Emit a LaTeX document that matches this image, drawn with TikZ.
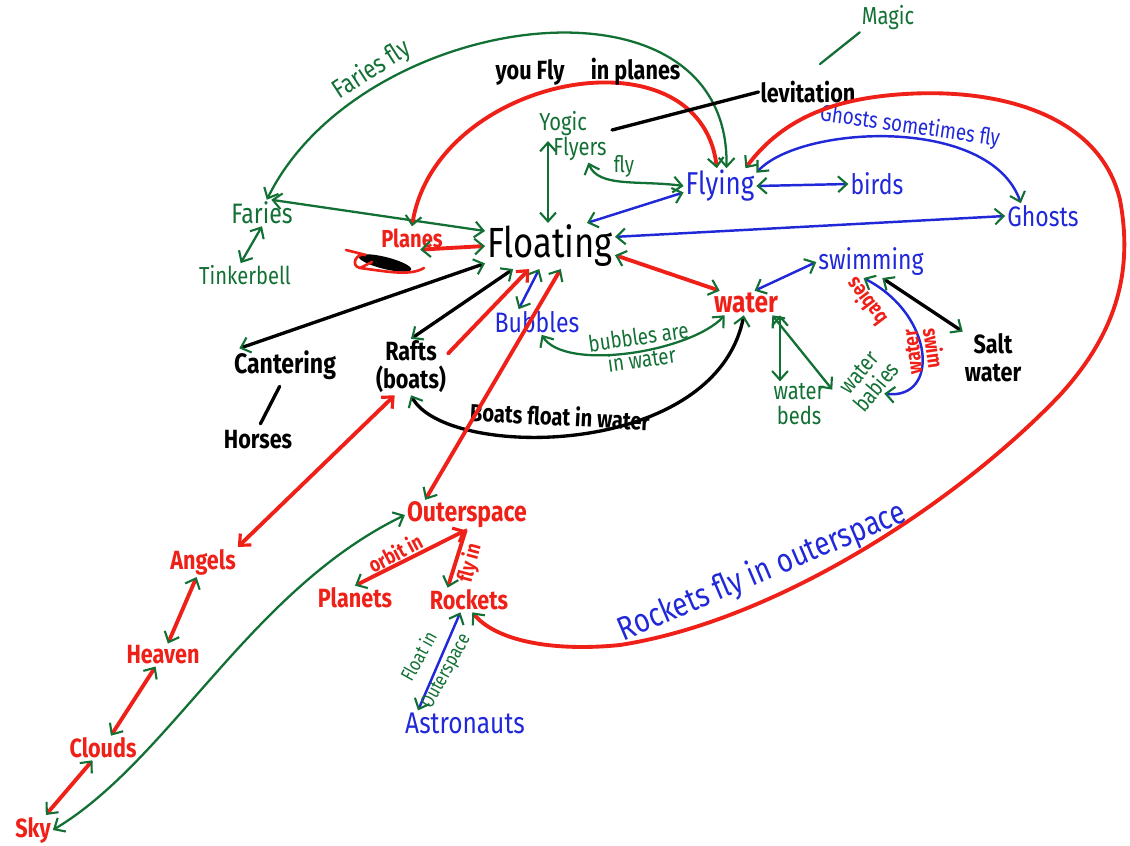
\documentclass[tikz,border=0pt]{standalone}
\usepackage{fontspec}
\setmainfont{Fira Sans}[FakeStretch=0.82]
\usetikzlibrary{arrows.meta}
\definecolor{mred}{RGB}{238,32,24}
\definecolor{mgreen}{RGB}{18,112,52}
\definecolor{mblue}{RGB}{32,40,216}
\tikzset{
  concept/.style={inner sep=1pt, align=center, font=\fontsize{16}{17}\selectfont},
  bconcept/.style={concept, text=mblue},
  gconcept/.style={concept, text=mgreen},
  kconcept/.style={concept, text=black, font=\fontsize{15}{16}\selectfont\bfseries},
  rconcept/.style={concept, text=mred, font=\fontsize{15}{16}\selectfont\bfseries},
  lbl/.style={inner sep=1pt, align=center, font=\fontsize{13}{13}\selectfont},
  gline/.style={draw=mgreen, line width=1.3pt, line cap=round},
  bline/.style={draw=mblue, line width=1.4pt, line cap=round},
  rline/.style={draw=mred, line width=2.2pt, line cap=round},
  kline/.style={draw=black, line width=1.9pt, line cap=round},
  rtip/.tip={Straight Barb[color=mred,length=5pt,width=9pt,line width=1.8pt]}
}
\begin{document}
\begin{tikzpicture}[x=0.2mm, y=-0.2mm, >={Straight Barb[color=mgreen,length=5pt,width=9pt,line width=1.2pt]}]
\useasboundingbox (0,0) rectangle (1130,845);
% centre
\node[concept, font=\fontsize{24}{26}\selectfont] (floating) at (550,246) {Floating};
% flying side
\node[gconcept] (faries) at (262,213) {Faries};
\node[gconcept, font=\fontsize{14}{15}\selectfont] (tinkerbell) at (245,275) {Tinkerbell};
\node[gconcept, font=\fontsize{14}{14}\selectfont, align=left] (yogic) at (573,136) {Yogic\\\hspace*{8pt}Flyers};
\node[bconcept, font=\fontsize{18}{19}\selectfont] (flying) at (720,186) {Flying};
\node[bconcept] (birds) at (877,184) {birds};
\node[bconcept] (ghosts) at (1043,216) {Ghosts};
\node[gconcept, font=\fontsize{14}{15}\selectfont] (magic) at (888,18) {Magic};
\node[kconcept] (levitation) at (808,92) {levitation};
\node[rconcept, font=\fontsize{14}{15}\selectfont\bfseries] (planes) at (412,238) {Planes};
% water side
\node[bconcept] (swimming) at (871,262) {swimming};
\node[rconcept, font=\fontsize{17}{18}\selectfont\bfseries] (water) at (746,303) {water};
\node[kconcept] (saltwater) at (993,358) {Salt\\water};
\node[gconcept, font=\fontsize{14}{14}\selectfont] (waterbeds) at (799,404) {water\\beds};
\node[gconcept, font=\fontsize{13}{13}\selectfont, rotate=50] (waterbabies) at (868,380) {water\\babies};
\node[bconcept] (bubbles) at (537,322) {Bubbles};
% left
\node[kconcept, font=\fontsize{16}{17}\selectfont\bfseries] (cantering) at (285,365) {Cantering};
\node[kconcept] (horses) at (258,440) {Horses};
\node[kconcept] (rafts) at (411,367) {Rafts\\(boats)};
% sky and space
\node[rconcept, font=\fontsize{16}{17}\selectfont\bfseries] (outerspace) at (467,515) {Outerspace};
\node[rconcept] (angels) at (203,562) {Angels};
\node[rconcept] (heaven) at (163,655) {Heaven};
\node[rconcept] (clouds) at (103,748) {Clouds};
\node[rconcept] (sky) at (33,830) {Sky};
\node[rconcept] (planets) at (355,598) {Planets};
\node[rconcept] (rockets) at (469,600) {Rockets};
\node[bconcept, font=\fontsize{17}{18}\selectfont] (astronauts) at (465,723) {Astronauts};

% crossed out word under Planes
\fill[black, rotate around={-14:(385,263)}] (385,263) ellipse (27 and 6);
\draw[mred, line width=1.5pt, line cap=round] (346,250) -- (366,255) .. controls (356,252) and (350,266) .. (360,268) -- (372,262) (360,268) .. controls (390,272) and (410,276) .. (424,268);

% faries
\draw[gline,<->] (faries.70) .. controls (360,10) and (730,-40) .. (flying.70);
\node[lbl, text=mgreen, font=\fontsize{15}{15}\selectfont, rotate=33] (fariesfly) at (372,70) {Faries fly};
\draw[gline,<->] (faries.55) -- (floating.167);
\draw[gline,<->] (tinkerbell.110) -- (faries.south);
% planes
\draw[rline,<->] (planes.north) .. controls (435,75) and (700,25) .. (flying.100);
\node[lbl, font=\fontsize{15}{15}\selectfont\bfseries] (youfly) at (588,72) {you Fly\quad in planes};
\draw[rline,<->] (planes.-55) -- (floating.west);
% levitation, magic
\coordinate (levfoot) at (612,130);
\coordinate (magicfoot) at (820,64);
\draw[kline] (levfoot) -- (levitation.west);
\draw[gline] (magicfoot) -- (magic.south west);
% yogic flyers
\coordinate (yogicfoot) at (548,141);
\draw[gline,<->] (yogicfoot) -- (yogicfoot |- floating.north);
\draw[gline,<->] (yogic.-60) .. controls (598,188) and (640,180) .. (flying.west);
\node[lbl, text=mgreen] (flylbl) at (624,166) {fly};
% flying
\draw[bline,<->] (floating.32) -- (flying.190);
\draw[bline,<->] (flying.east) -- (birds.west);
\draw[bline,<->] (flying.20) .. controls (800,125) and (990,115) .. (ghosts.150);
\node[lbl, text=mblue, rotate=-8] (ghostsfly) at (910,127) {Ghosts sometimes fly};
\draw[bline,<->] (ghosts.west) -- (floating.8);
% rockets fly in outerspace
\draw[rline,<->] (flying.35) .. controls (785,115) and (840,98) .. (905,94)
  .. controls (1000,88) and (1100,115) .. (1120,200)
  .. controls (1135,280) and (1110,340) .. (1060,395)
  .. controls (960,500) and (780,620) .. (620,645)
  .. controls (550,652) and (495,640) .. (rockets.-75);
\node[lbl, text=mblue, font=\fontsize{19}{20}\selectfont, rotate=23] (rocketsfly) at (762,572) {Rockets fly in outerspace};
% water
\draw[rline,<->] (floating.-8) -- (water.155);
\draw[bline,<->] (water.55) -- (swimming.west);
\draw[kline,<->] (swimming.-55) -- (saltwater.north west);
\draw[bline,<->] (swimming.-115) .. controls (935,315) and (940,400) .. (waterbabies.south);
\node[lbl, text=mred, font=\fontsize{12}{12}\selectfont\bfseries, rotate=97] (wbwater) at (913,352) {water};
\node[lbl, text=mred, font=\fontsize{12}{12}\selectfont\bfseries, rotate=127] (wbbabies) at (866,302) {babies};
\node[lbl, text=mred, font=\fontsize{12}{12}\selectfont\bfseries, rotate=-82] (wbswim) at (934,348) {swim};
\draw[gline,<->] (water.south east) -- (water.south east |- waterbeds.north);
\draw[gline,<->] (water.-25) -- (waterbabies.north west);
\draw[gline,<->] (bubbles.-70) .. controls (565,372) and (690,352) .. (water.210);
\node[lbl, text=mgreen, rotate=8] (bubblesin) at (640,348) {bubbles are\\in water};
\draw[kline,<->] (rafts.south) .. controls (445,460) and (715,460) .. (water.-100);
\node[lbl, font=\fontsize{14}{14}\selectfont\bfseries, rotate=-3] (boatsfloat) at (560,416) {Boats float in water};
% into floating
\draw[bline,<->] (bubbles.145) -- (floating.245);
\draw[kline,<->] (cantering.160) -- (floating.195);
\draw[kline, shorten <=3pt, shorten >=3pt] (horses.north) -- (cantering.-100);
\draw[kline,<->] (rafts.north) -- (floating.212);
\draw[rline,-rtip] (rafts.20) -- (floating.228);
\draw[rline,<->] (outerspace.160) -- (floating.295);
% heaven chain
\draw[rline,rtip-rtip] (angels.north east) -- (rafts.240);
\foreach \a/\b in {angels/heaven, heaven/clouds, clouds/sky}
  \draw[rline,<->] (\a) -- (\b);
\draw[gline,<->] (sky.east) .. controls (170,760) and (250,590) .. (outerspace.west);
% outerspace
\draw[rline,rtip->] (outerspace.-95) -- (planets.north);
\node[lbl, text=mred, font=\fontsize{12}{12}\selectfont\bfseries, rotate=28] (orbitin) at (395,553) {orbit in};
\draw[rline,->] (outerspace.-95) -- (rockets.150);
\node[lbl, text=mred, font=\fontsize{12}{12}\selectfont\bfseries, rotate=75] (flyin) at (470,563) {fly in};
\draw[bline,<->] (rockets.235) -- (astronauts.165);
\node[lbl, text=mgreen, font=\fontsize{11}{17}\selectfont, rotate=61] (floatin) at (433,664) {Float in\\Outerspace};
\end{tikzpicture}
\end{document}
